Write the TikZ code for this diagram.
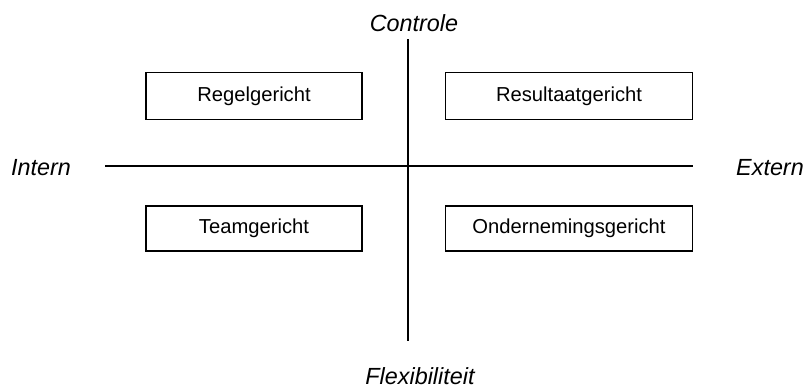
\documentclass[tikz,border=0pt]{standalone}
\usepackage{fontspec}
\setmainfont{Liberation Sans}
\usetikzlibrary{positioning}

\begin{document}
\begin{tikzpicture}[
  x=0.02cm, y=-0.02cm,
  box/.style={draw, line width=0.8pt, minimum height=0.94cm, inner sep=0pt,
              align=center, font=\fontsize{11.5}{13}\selectfont},
  axis/.style={font=\fontsize{13.3}{15}\selectfont\itshape},
  ax/.style={line width=0.65pt}
]
  \useasboundingbox (0,0) rectangle (806,387);

  \node[box, minimum width=4.32cm] (regel)  at (254,96)    {Regelgericht};
  \node[box, minimum width=4.94cm] (result) at (569,96)    {Resultaatgericht};
  \node[box, minimum width=4.32cm, minimum height=0.9cm] (team) at (254,228.5) {Teamgericht};
  \node[box, minimum width=4.94cm, minimum height=0.9cm] (onder) at (569,228.5) {Ondernemingsgericht};

  \node[axis] (contr) at (414,23)  {Controle};
  \node[axis] (flex)  at (420,376) {Flexibiliteit};
  \node[axis] (int)   at (41,168)  {Intern};
  \node[axis] (ext)   at (770,168) {Extern};

  \coordinate (top)   at (408,39);
  \coordinate (bot)   at (408,341);
  \coordinate (left)  at (105,166);
  \coordinate (right) at (693,166);

  \draw[ax] (top)  -- (bot);
  \draw[ax] (left) -- (right);
\end{tikzpicture}
\end{document}
